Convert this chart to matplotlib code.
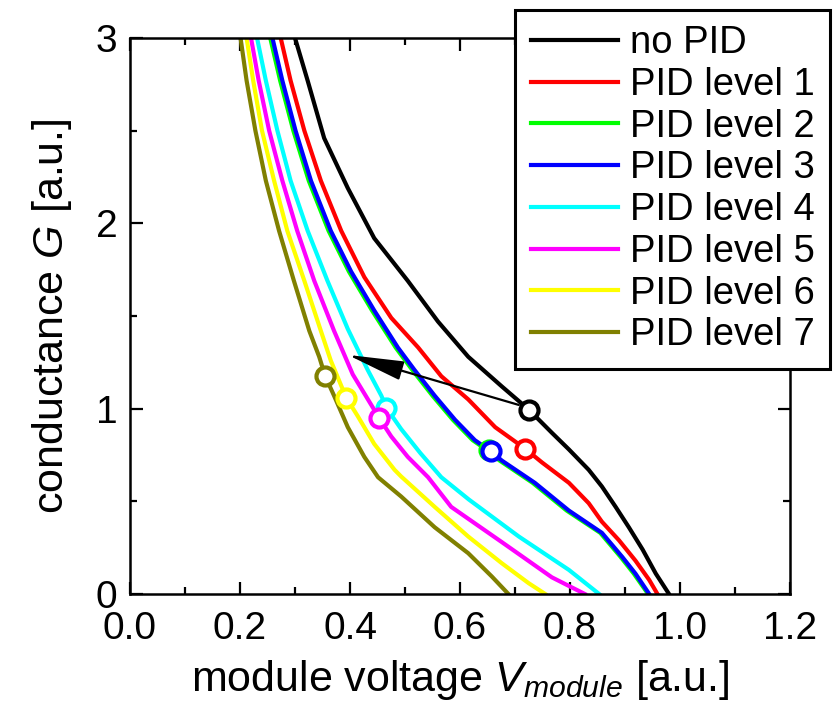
import matplotlib
matplotlib.use("Agg")
import matplotlib.pyplot as plt
from matplotlib.ticker import MultipleLocator, FormatStrFormatter

plt.rcParams['font.family'] = ['Liberation Sans', 'DejaVu Sans']
plt.rcParams['mathtext.fontset'] = 'custom'
plt.rcParams['mathtext.rm'] = 'Liberation Sans'
plt.rcParams['mathtext.it'] = 'Liberation Sans:italic'

labels = ["no PID", "PID level 1", "PID level 2", "PID level 3",
          "PID level 4", "PID level 5", "PID level 6", "PID level 7"]
colors = ["#000000", "#ff0000", "#00ff00", "#0000ff",
          "#00ffff", "#ff00ff", "#ffff00", "#808000"]

x_nopid = [0.300, 0.323, 0.353, 0.396, 0.444, 0.505, 0.560, 0.615, 0.676, 0.725, 0.767, 0.798, 0.834, 0.858, 0.883, 0.907, 0.932, 0.956, 0.980]
y_nopid = [3.0, 2.77, 2.46, 2.19, 1.92, 1.69, 1.47, 1.28, 1.12, 0.995, 0.87, 0.78, 0.67, 0.58, 0.47, 0.36, 0.24, 0.11, 0.0]

x_l1 = [0.274, 0.292, 0.317, 0.347, 0.384, 0.426, 0.475, 0.524, 0.566, 0.615, 0.664, 0.718, 0.749, 0.798, 0.834, 0.858, 0.889, 0.919, 0.944, 0.959]
y_l1 = [3.0, 2.77, 2.50, 2.23, 1.96, 1.71, 1.49, 1.33, 1.175, 1.05, 0.90, 0.785, 0.71, 0.60, 0.49, 0.39, 0.29, 0.18, 0.076, 0.0]

x_l2 = [0.255, 0.273, 0.297, 0.325, 0.361, 0.398, 0.440, 0.483, 0.513, 0.550, 0.587, 0.623, 0.652, 0.672, 0.732, 0.794, 0.855, 0.892, 0.916, 0.942]
y_l2 = [3.0, 2.77, 2.50, 2.23, 1.96, 1.74, 1.53, 1.33, 1.21, 1.07, 0.94, 0.83, 0.77, 0.72, 0.60, 0.45, 0.33, 0.20, 0.11, 0.0]

x_l3 = [0.259, 0.277, 0.301, 0.329, 0.365, 0.402, 0.444, 0.487, 0.517, 0.554, 0.591, 0.627, 0.656, 0.676, 0.736, 0.798, 0.858, 0.895, 0.919, 0.944]
y_l3 = [3.0, 2.77, 2.50, 2.23, 1.96, 1.74, 1.53, 1.33, 1.21, 1.07, 0.94, 0.83, 0.77, 0.72, 0.60, 0.45, 0.33, 0.20, 0.11, 0.0]

x_l4 = [0.231, 0.247, 0.268, 0.292, 0.323, 0.359, 0.396, 0.432, 0.457, 0.466, 0.493, 0.528, 0.566, 0.616, 0.707, 0.798, 0.853]
y_l4 = [3.0, 2.77, 2.50, 2.23, 1.96, 1.69, 1.43, 1.21, 1.07, 1.005, 0.89, 0.76, 0.63, 0.51, 0.31, 0.13, 0.0]

x_l5 = [0.220, 0.234, 0.253, 0.277, 0.304, 0.335, 0.371, 0.405, 0.453, 0.475, 0.505, 0.542, 0.584, 0.676, 0.767, 0.827]
y_l5 = [3.0, 2.77, 2.50, 2.23, 1.96, 1.69, 1.42, 1.185, 0.95, 0.85, 0.74, 0.63, 0.47, 0.28, 0.09, 0.0]

x_l6 = [0.212, 0.224, 0.240, 0.262, 0.286, 0.317, 0.347, 0.365, 0.393, 0.414, 0.444, 0.481, 0.493, 0.554, 0.615, 0.676, 0.725, 0.755]
y_l6 = [3.0, 2.77, 2.50, 2.23, 1.96, 1.69, 1.42, 1.26, 1.06, 0.96, 0.81, 0.67, 0.634, 0.47, 0.31, 0.166, 0.058, 0.0]

x_l7 = [0.201, 0.212, 0.228, 0.247, 0.271, 0.298, 0.326, 0.344, 0.355, 0.371, 0.396, 0.426, 0.451, 0.493, 0.554, 0.615, 0.658, 0.688]
y_l7 = [3.0, 2.77, 2.50, 2.23, 1.96, 1.69, 1.42, 1.28, 1.175, 1.07, 0.90, 0.74, 0.63, 0.526, 0.36, 0.22, 0.094, 0.0]

# operating-point markers (one per curve)
marker_x = [0.725, 0.718, 0.652, 0.656, 0.466, 0.453, 0.393, 0.355]
marker_y = [0.995, 0.785, 0.775, 0.77, 1.005, 0.95, 1.06, 1.175]

# arrow from no-PID point towards degraded points
arrow_start = (0.707, 1.02)
arrow_end = (0.396, 1.29)

curves_x = [x_nopid, x_l1, x_l2, x_l3, x_l4, x_l5, x_l6, x_l7]
curves_y = [y_nopid, y_l1, y_l2, y_l3, y_l4, y_l5, y_l6, y_l7]

fig = plt.figure(figsize=(8.35, 7.09), dpi=100)
ax = fig.add_axes([130/835, 1-594/709, 660/835, 556/709])

handles = []
for i, (xs, ys) in enumerate(zip(curves_x, curves_y)):
    h, = ax.plot(xs, ys, color=colors[i], lw=3.0, label=labels[i],
                 solid_joinstyle='round', zorder=2 + i * 0.01)
    handles.append(h)

for i in range(len(marker_x)):
    ax.plot(marker_x[i], marker_y[i], 'o', ms=13, mew=3.0, mfc='white',
            mec=colors[i], zorder=4 + i * 0.01)

ax.annotate('', xy=arrow_end, xytext=arrow_start,
            arrowprops=dict(arrowstyle='-|>,head_length=3.5,head_width=0.6',
                            lw=1.6, color='k', shrinkA=0, shrinkB=0),
            zorder=5)

ax.set_xlim(0.0, 1.2)
ax.set_ylim(0, 3)
ax.xaxis.set_major_locator(MultipleLocator(0.2))
ax.xaxis.set_minor_locator(MultipleLocator(0.1))
ax.yaxis.set_major_locator(MultipleLocator(1))
ax.yaxis.set_minor_locator(MultipleLocator(0.5))
ax.xaxis.set_major_formatter(FormatStrFormatter('%.1f'))
ax.yaxis.set_major_formatter(FormatStrFormatter('%d'))

ax.tick_params(which='both', direction='in', top=True, right=True, width=1.6)
ax.tick_params(which='major', length=9, labelsize=28)
ax.tick_params(axis='x', which='major', pad=12)
ax.tick_params(axis='y', which='major', pad=9)
ax.tick_params(which='minor', length=5)
for s in ax.spines.values():
    s.set_linewidth(1.8)

ax.set_xlabel('module voltage $V_{module}$ [a.u.]', fontsize=31, labelpad=8)
ax.set_ylabel('conductance $G$ [a.u.]', fontsize=31, labelpad=16)

leg = fig.legend(handles=handles, loc='upper right',
                 bbox_to_anchor=(830/835, 1-10/709), borderaxespad=0,
                 fontsize=27.5, frameon=True, fancybox=False, edgecolor='black',
                 framealpha=1.0, handlelength=2.3, handletextpad=0.3,
                 labelspacing=0.15, borderpad=0.4)
leg.get_frame().set_linewidth(2.2)
for lh in leg.get_lines():
    lh.set_linewidth(3.0)

fig.savefig('out.png', dpi=100)
